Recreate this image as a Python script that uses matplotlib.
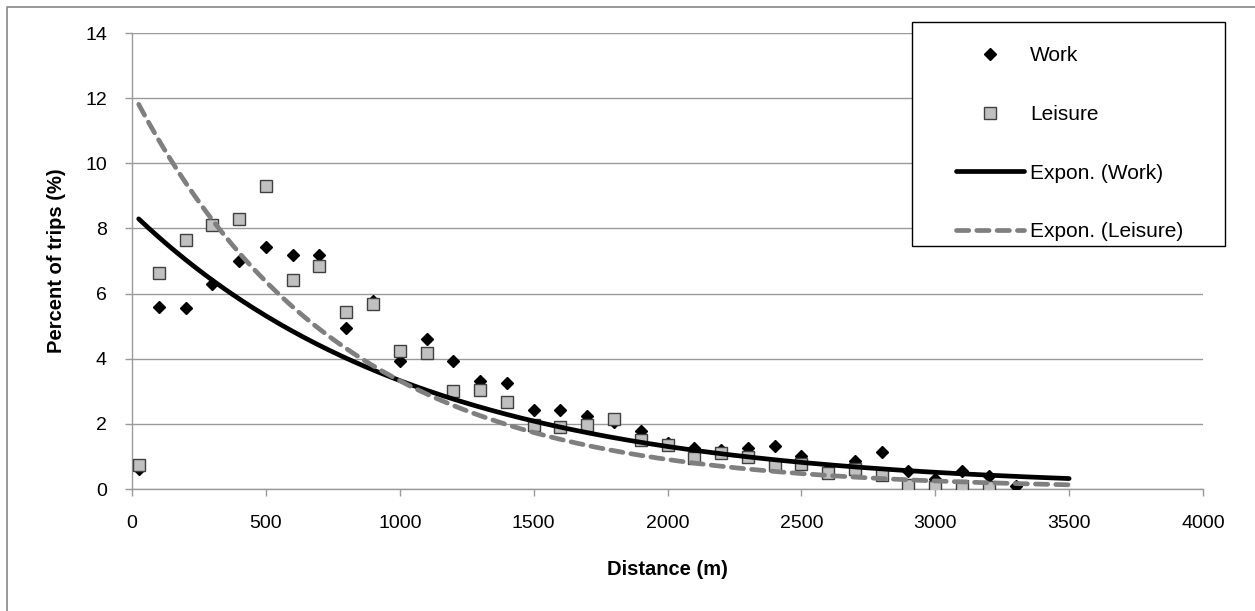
import matplotlib.pyplot as plt
import numpy as np
from matplotlib.lines import Line2D
from matplotlib.patches import Rectangle

plt.rcParams['font.family'] = ['Liberation Sans', 'DejaVu Sans']

# distance bands (m)
distance = [25, 100, 200, 300, 400, 500, 600, 700, 800, 900, 1000, 1100,
            1200, 1300, 1400, 1500, 1600, 1700, 1800, 1900, 2000, 2100,
            2200, 2300, 2400, 2500, 2600, 2700, 2800, 2900, 3000, 3100,
            3200, 3300]
work = [0.6, 5.6, 5.55, 6.3, 7.0, 7.42, 7.17, 7.18, 4.95, 5.77, 3.93, 4.62,
        3.92, 3.33, 3.24, 2.42, 2.44, 2.23, 2.05, 1.79, 1.4, 1.26,
        1.21, 1.26, 1.33, 1.01, 0.6, 0.87, 1.13, 0.54, 0.3, 0.56,
        0.41, 0.08]
leisure_distance = distance[:-1]
leisure = [0.75, 6.62, 7.66, 8.12, 8.3, 9.31, 6.42, 6.86, 5.42, 5.67, 4.23,
           4.17, 3.0, 3.05, 2.66, 1.96, 1.91, 1.98, 2.16, 1.5, 1.36, 0.95,
           1.11, 0.98, 0.75, 0.76, 0.49, 0.62, 0.44, 0.13, 0.05, 0.1, 0.06]

# exponential trendlines y = a * exp(b * x), forecast to 3500 m
work_trend = (8.49, -0.000936)
leisure_trend = (12.2, -0.0013)
trend_end = 3500

W, H = 1255, 611
fig = plt.figure(figsize=(W / 100, H / 100), dpi=100)
ax = fig.add_axes([132 / W, 1 - 489 / H, (1203 - 132) / W, (489 - 33) / H])

ax.plot(distance, work, 'D', color='black', markersize=6.2, zorder=3,
        label='Work')
ax.plot(leisure_distance, leisure, 's', markerfacecolor='#c0c0c0',
        markeredgecolor='#404040', markeredgewidth=1.0, markersize=8,
        zorder=4, label='Leisure')

xt = np.linspace(distance[0], trend_end, 300)
ax.plot(xt, work_trend[0] * np.exp(work_trend[1] * xt), '-', color='black',
        lw=3.4, solid_capstyle='round', zorder=5, label='Expon. (Work)')
ax.plot(xt, leisure_trend[0] * np.exp(leisure_trend[1] * xt), '--',
        color='#7f7f7f', lw=3.4, dashes=(2.6, 1.7), dash_capstyle='round',
        zorder=6, label='Expon. (Leisure)')

ax.set_xlim(0, 4000)
ax.set_ylim(0, 14)
ax.set_xticks(np.arange(0, 4001, 500))
ax.set_yticks(np.arange(0, 15, 2))
ax.grid(axis='y', color='#9a9a9a', lw=1.0)
ax.set_axisbelow(True)
for s in ['top', 'right']:
    ax.spines[s].set_visible(False)
for s in ['left', 'bottom']:
    ax.spines[s].set_color('#9a9a9a')
    ax.spines[s].set_linewidth(1.0)
ax.tick_params(axis='both', colors='#9a9a9a', length=5, width=1.0,
               labelsize=14, labelcolor='black')
ax.tick_params(axis='y', pad=13)
ax.tick_params(axis='x', pad=14)

ax.set_xlabel('Distance (m)', fontsize=14.5, fontweight='bold')
ax.set_ylabel('Percent of trips (%)', fontsize=14.5, fontweight='bold')
ax.xaxis.set_label_coords(0.5, -0.155)
ax.yaxis.set_label_coords(-0.062, 0.5)

# outer chart frame (left and top edges visible)
fig.add_artist(Line2D([7 / W, 7 / W, 1], [0, 1 - 7 / H, 1 - 7 / H],
                      transform=fig.transFigure, color='#868686', lw=1.2))

# legend box
fig.add_artist(Rectangle((912 / W, 1 - 246 / H), (1225 - 912) / W,
                         (246 - 22) / H, transform=fig.transFigure,
                         facecolor='white', edgecolor='black', lw=1.0,
                         zorder=4.5))
fig.legend(loc='upper left', bbox_to_anchor=(946 / W, 1 - 36 / H),
           frameon=False, fontsize=15, borderpad=0, labelspacing=1.9,
           handlelength=3.25, handletextpad=0.3, numpoints=1)

fig.savefig('out.png', dpi=100)
